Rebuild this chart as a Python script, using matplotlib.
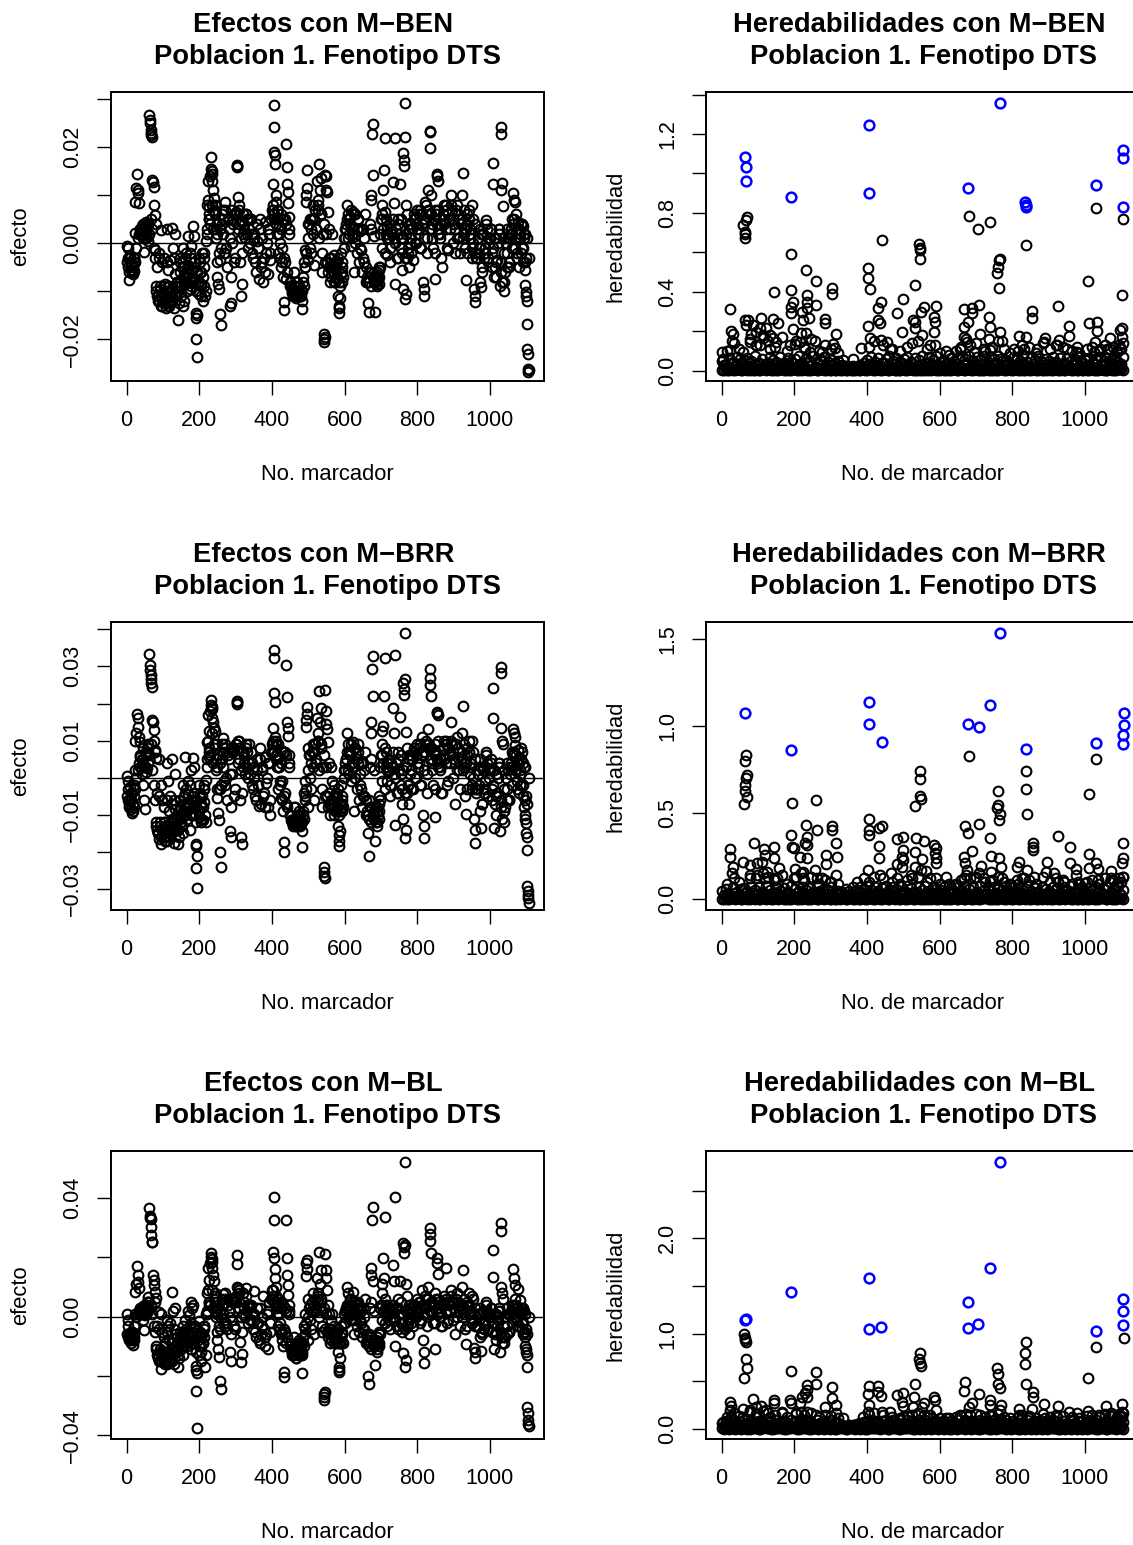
#!/usr/bin/env python3

import numpy as np
import matplotlib
matplotlib.use("Agg")
import matplotlib.pyplot as plt

W, H = 1133, 1545

# Marcadores de los paneles de efectos (mismos para los tres modelos)
marcador = [
    1, 3, 5, 7, 9, 11, 13, 15, 17, 19, 20, 21,
    22, 24, 26, 28, 30, 32, 34, 36, 38, 40, 42, 44, 46, 48, 50, 52, 54, 56, 58, 60,
    62, 64, 65, 66, 67, 68, 69, 70, 72, 74, 76, 78, 80,
    78, 82, 84, 86, 88, 90, 92, 94, 96, 98, 100, 102, 104, 106, 108, 110, 112, 114, 116, 118,
    120, 122, 124, 126, 128, 130, 132, 134, 136, 138,
    140, 142, 144, 146, 148, 150, 152, 154, 156, 158, 160, 162, 164, 166, 168, 170, 172, 174, 176, 178, 180, 182, 184, 186,
    188, 190, 191, 192, 193, 194, 196, 198, 200, 202, 204, 206, 208, 210, 212, 214, 216, 218,
    220, 222, 224, 225, 226, 228, 230, 232, 233, 234, 235, 236, 238, 240, 242, 244, 246, 248, 250, 252, 254, 256, 258, 259, 260, 262,
    264, 268, 272, 276, 280, 284, 286, 288, 292, 296, 300, 303, 304, 305, 306, 308, 312, 316, 318, 320, 324, 328, 332, 336, 340,
    344, 348, 352, 356, 360, 364, 368, 372, 376, 380, 384, 388, 392, 396, 400,
    402, 404, 405, 406, 407, 408, 409, 410, 412, 414, 416, 418, 420, 422, 424, 426, 428, 430, 432, 433,
    436, 438, 440, 441, 442, 443, 444, 446, 448, 450, 452, 454, 456, 458, 460,
    462, 464, 466, 468, 470, 472, 474, 476, 478, 480, 482, 483, 486, 488, 490, 492, 494, 495, 496, 497, 498, 500,
    504, 508, 512, 516, 520, 524, 527, 529, 532, 534, 536, 538, 540, 542, 543, 544, 545, 546, 548, 550, 552, 554, 556, 558, 560,
    562, 565, 568, 571, 574, 577, 580, 582, 584, 585, 586, 587, 588, 590, 592, 594, 596, 598,
    600, 603, 606, 609, 612, 615, 618, 621, 624, 627, 630, 633, 636, 639, 642, 645, 648, 651, 654, 657, 660,
    662, 664, 666, 668, 670, 672, 673, 674, 676, 677, 678, 680, 682, 684, 686, 688, 690, 692, 694, 696,
    698, 700, 702, 704, 706, 708, 710, 712, 714, 716, 718, 720,
    722, 726, 730, 734, 736, 738, 740, 744, 748, 752, 756, 758, 760, 762, 763, 764, 765, 766, 767, 768, 770, 772, 774, 776, 778, 780,
    784, 788, 792, 796, 800, 804, 808, 812, 816, 818, 820, 822, 826, 830, 834, 835, 836, 837, 840, 844, 848, 850, 852, 854, 855, 856, 858,
    862, 868, 874, 880, 886, 892, 898, 904, 910, 916, 922, 925, 928, 932, 935, 938, 942, 946, 950, 954, 958,
    957, 958, 960, 964, 968, 972, 975, 978, 982, 986, 990, 994, 998, 1002, 1006, 1008, 1009, 1012, 1016, 1020,
    1024, 1028, 1030, 1031, 1032, 1034, 1036, 1038, 1040, 1044, 1048, 1052, 1056, 1060,
    1062, 1064, 1066, 1068, 1070, 1072, 1074, 1076, 1078, 1080, 1082, 1084, 1086, 1088, 1090, 1092, 1094, 1096, 1098, 1099,
    1100, 1101, 1102, 1103, 1104, 1105, 1106, 1107, 1108,
]

# Efectos en milesimas
efecto_ben = np.array([
    -.5, -3, -1, -7.7, -2.5, -5.5, -4.5, -6.3, -5, -4, -5.8, -3,
    2.2, 8.5, 11.6, 14.5, 11, 10.5, 8.3, 2, 3, 2.5, 3.5, 1, 2.8, -1.8, 2, 4.5, 3, 3.5, .5, 1.5,
    26.8, 25.6, 25, 23.6, 22.9, 22.6, 22.2, 13.2, 12.8, 11.8, 8, 5.9, 4,
    -1.5, -9, -5, -11, -2, -12, -9.5, 2.8, -13, -4, -10.5, -12.5, -3, -8.5, -13.5, 3, -11.5, -5.5, -13, -9,
    -3.5, -12, 3.2, -10, -1, -13.5, -6.5, 2, -10.5, -8,
    -9, -16, -12.5, -6, -3, -11, -5, -13, -1, -12, -7, -8.5, -2, -10, 1.5, -4.5, -6.5, -9.5, -3, -.5, -5.5, 3.5, -8, 1.5,
    -5, -14.5, -15.5, -20, -23.8, -15, -8, -3, -10.5, -6, -11, -8.5, -2, -12, -9, -5, -11, .5,
    3, 8, 9, 13, 7.5, 5, 14, 18, 15.5, 15, 14.5, 13, 11, 9.5, 6.5, 8, 3, -4, -7, -8.5, -9.5, -3.5, -14.7, -17, -1, 4,
    7, -2, 8.5, -5, 5, -13, -12.5, -7, 4, -4, 6.5, 16.2, 16, 15.8, 9.7, 7, -4, -11, -8.5, 6, 3, 6, 2, 5, 0,
    2, -3, 1, -6, .5, -7.5, 5, -4, -8, 4.5, -2, -6.5, 2, -3.5, 7,
    6, 12.3, 28.7, 24.3, 19, 18.4, 16.4, 10, 8.5, 7, 5, -2, 3.5, -3, -5, 6, -1, -7, -12.3, -14,
    -4, -7.5, 20.6, 15.8, 12.3, 10.7, 8.3, 5.5, 2, -8, -9, -10.3, -9.5, -10, -6,
    -10.5, -9, -11.5, -8, -10, -11, -9, -10.5, -11, -9.5, -12, -13.7, -7, -4, -1.5, -5, 8.6, 10, 11.5, 15.3, 4, -3.5,
    5, -2, 8, -4.5, 3, 13, 9, 16.6, 11, 6, 13.5, -6, 2, -19, -20, -20.5, -19.5, 14.2, 14, 11, 10.7, 6.5, 3, -5, -8,
    -3, 2, -6, -2.5, -8, -5, -7.5, -11, -13, -14.5, -13.5, -11.5, -9, -6.5, -8, -4, -7, -1,
    1, 4, 8, 6, 2, 5.5, -.5, 3, 6.5, -6, 1.5, -2, 5, -4, 2.5, -1.5, -6, 3, -4, 6, -8,
    -8, -12.5, -14.4, -6, 4, 3, 9, 10, 22.7, 24.8, 14.3, 1.5, -7, -14.4, -8, -6, -9, -7.5, -8.5, -5.5,
    2, 5, 8, 6, 11, 15.3, 21.9, 6.5, 2, -2.5, 3.5, 1,
    1, -4, 2.5, 12.8, 8.3, 21.9, -8.4, -3, 5, 12.3, 1, -5.5, -9.5, 18.7, 17.4, 16, 29.2, 22.2, -11.6, -10.5, 8, 6, -2, 3, -5, 0,
    1, -3.5, 5, 0, 7, 3, -1, 6, -8, -9.5, -10.9, 8.5, 1, 11, 23.4, 23.1, 19.9, 10, 4, -1, 7, -7.5, 6, 14.5, 14, 13, 3,
    2, -5, 4, 7, -1.5, 10, 5, -2, 8, 1, 10, 14.6, 3, -1, -7.7, 4, 7, 1, -3, 5, -2,
    -9.5, -12.3, -11, -3, 1, -8, -9.1, -6, 2, -1, 4.8, -4, 0, 3, -5, 12.3, 16.7, -7, 1, -3.5,
    2, -9, 11, 24.3, 22.7, 12.5, 7.8, -10, -8, 0, 3, -5, 1, 5,
    2, 10.5, 9, 8.6, -1, 6, 3, -3, 4.5, -5, 1, 2, -2, 4, 3.5, -4, 1, -5.5, -8.8, -10.2,
    -11, -12, -16.8, -22, -23, -26.2, -26.8, -26.5, -3,
]) / 1000

efecto_brr = np.array([
    .5, -1, -3, -7, -2.5, -6, -8.5, -9.6, -9, -8, -5, -3,
    2, 10, 12, 17.3, 16, 13.7, 11, 9.7, 5.5, 3, 1, -2, 4, -6, -8.5, 1.5, 6, 2.5, 7, 8,
    33.3, 30.3, 29, 27.6, 26.7, 25.4, 24.5, 15.5, 15, 12.8, 10, 7.4, 5.2,
    7, -12, -4, -15, 5, -16.5, -13, -2, -18, -6, -14, -16, -8, -12, -15, 4, -17, -1, -13, -9,
    -5, -14.5, 5, -11, -7, -17.5, -8.5, 1, -13, -10,
    -14, -18, -16, -8, -11, -12, -13, -15, -2, -7, -10, 5.6, -3, -11, -1, -4.5, -8, -14, -6, 2, -5, 5.2, -10, 3,
    -6, -18, -18.5, -24.4, -29.6, -21, -9, -2, -10.5, -4, -12, -8, -5, -11.5, -6.5, -3, -10, -.5,
    5, 9.5, 10, 17, 12.5, 5.5, 18, 21, 19.5, 19, 18.5, 16, 15, 13.5, 9, 12.5, 5, -3, -5.5, -9.5, -11.5, -3, -20, -24, -2, 5,
    10.6, -1, 9, -6, 6, -14.5, -16, -8, 7.5, -5, 9, 20.6, 20.3, 20, 10, 8, -6, -16, -18, 7, 4, 9, 3, 9, 1,
    4, -3, 0, -6, 2, -7.5, 8, 3, -5, 5.5, -1.5, -8, 4, -10, 9,
    7, 13.3, 34.5, 32.3, 22.7, 20.3, 11, 9, 10, 6, 3, -3, 5.5, -2, -5.5, 7.5, -1, -9, -17.2, -20,
    -4, -7, 30.3, 21.8, 15, 13.5, 11.3, 6, 3, -10, -11.5, -12, -12, -12.5, -8,
    -12, -8, -13, -10, -11, -12.5, -9, -12.8, -11, -9.5, -14.5, -18.7, -9, -4, -1, -6, 13.7, 15.5, 17.3, 19, 8, -8,
    6, -3, 9, -6, 4, 16, 12, 23.3, 15, 9, 18.7, -8, 3, -24, -25.5, -26.6, -27, 23.6, 18, 14.6, 13, 9.7, 4, -7, -10,
    3, -1, -7, -2, -9, -4, -8, -13, -15.5, -18.5, -17, -14.5, -9, -7, -9, -5, -8, 0,
    2, 5, 12, 9, 1, 7, -1, 4, 9.5, -9, 0, -3, 9, -6, 1, -3, -8, 4, -5, 7, -10,
    -10, -15, -21, -6, 3, 5, 12, 15, 29.4, 32.8, 22, 2, -9, -17, -12, -8, -12, -10, -11, -5,
    3, 6, 9, 12.5, 14, 22, 32.3, 8, 3, -1, 4, 1.5,
    2, -5, 3, 18.8, 12, 33.2, -12.7, -4, 7, 16.4, 1, -7, -11, 25.5, 24, 22.2, 39, 26.7, -16.3, -14, 12.4, 8, -2, 5, -7, 1,
    2, -3, 7, 0, 9, 4, -2, 11, -10, -13, -16.3, 9, 1, 13, 29.4, 26.9, 25, 22, 5, -2, 9, -10.7, 7, 17.8, 17.5, 17, 4,
    3, -4, 5, 9, -1, 15, 7, -7, 11, 2, 12, 19.4, 4, -5, -9.8, 6, 10, 1, -3, 7, -3,
    -11, -17.5, -14, -3, 1, -9, -13.6, -7, 2, -1, 7, -5, 0, 4, -6, 16, 24.3, -13.6, 1, -4,
    3, -14.5, 13.5, 29.9, 28.3, 10, 9, -12, -9, 0, 4, -6, 1, 7,
    3, 13, 12, 11, 8.8, 6, 4, -1, 7.5, -4, 1, -2, 8, 7, 4, -5, -8, -10, -11, -12.3,
    -15, -16, -19.6, -29.3, -30.5, -31.5, -32.5, -33.8, 0,
]) / 1000

efecto_bl = np.array([
    1, -1, -3, -6, -8, -6, -9, -7, -9.5, -8, -5.5, -7,
    1, 8.4, 11, 16.9, 14, 11.8, 9.5, 1.5, 2.5, 2, 3, -1, 3.5, -4.5, .5, 4, 1, 5, 2, 6.5,
    36.5, 34, 33.4, 33, 30.3, 27.5, 25.3, 25, 14, 12.5, 10.7, 8.4, 6.2,
    5, -10, -3, -13, 1.5, -15, -11, 1, -17.5, -5, -12, -15.5, -7, -9, -14, -1, -16, -3, -12, -8,
    -2, -13, 8.4, -9, 2, -16, -6, 3, -11, -7,
    -12, -17, -14, -9, -5, -11, -7, -13, -3, -10, -8, -1, -4, -9, 2, -6, .5, -7, 5, -2, 3, -5, 4, -3,
    -3, -18, -16.5, -25, -37.6, -19, -8, -1.5, -13, -5, -15, -10, -6, -9, -7, -3, -17, 1,
    2, 8, 9, 16.5, 12.5, 5, 18, 21.3, 20, 19.5, 18.5, 16.3, 14, 12, 8, 7, 2, -5, -8, -11, -13.5, -4, -21.7, -24.4, -.5, 4,
    7.5, -2, 8, -4, 6, -12, -15, -6, 6, -3, 5, 20.8, 17.6, 10, 9.5, 9, -8.5, -15.4, -12.5, 8, 3, 9.5, 2, 4, -1,
    1, -4, 8.5, -7, -2, -8, -9, -3, 7, -10, -6, -11, 5, -2, 9,
    9, 21.9, 40.2, 32.6, 19.9, 16, 13, 10, 7, 5, 1, -3, 4, -4, -6, 5, -8, -10, -18.8, -20.4,
    -5, -9, 32.6, 19.7, 14, 10.7, 7.3, 4, 1, -9, -11, -13, -12, -13, -7,
    -12, -10, -14, -9, -11, -13, -8, -12.5, -10, -9, -13, -18.9, -7, -3, 1, -4, 13.8, 18, 19, 16, 6, -8,
    4, -4, 8, -6, 3, 13, 8, 21.9, 11, 6, 15.7, -5, 2, -26, -27, -28, -25.5, 21, 15.7, 13, 9, 4, 1, -6, -9,
    -1, 1, -5, -3, -8, -6, -9, -12, -17, -18.5, -18, -14, -9, -7, -8.5, -5, -9, -2,
    -2, 3, 10, 8, 2, 6, -1, 4, 8.4, -6, 1, -3, 5, -5, 3, -2, -7, 3, -4, 6, -9,
    -8, -20, -22.6, -6, 3, 5, 14, 16.5, 32.7, 37, 12, 2, -10, -16.3, -9, -7, -11, -9, -10, -5,
    3, 4, 8, 11, 19.9, 13, 33.6, 6, 2, -3, 4, 1,
    1, -4, 3, 17.4, 12, 40.2, -10, -3, 6, 12, 1, -5, -12.4, 24.7, 23.5, 21.3, 52.2, 24, -16.9, -14.5, 11, 7, -2, 4, -6, 0,
    1, -3, 4, 0, 6, 3, -2, 9, -8, -12, -15.7, 7, 1, 10, 29.8, 28, 25.5, 21.3, 5, -2, 8, -10.9, 6, 19.7, 18, 14.3, 3,
    2, -3, 4, 16.3, -1, 9, 5, -6, 8, 2, 10, 15.7, 3, -4, -9.3, 4, 8, 1, -2, 6, -3,
    -10.7, -14, -12, -3, 1, -7, -11.5, -5, 2, -1, 5, -4, 0, 3, -5, 13.5, 22.5, -11, 1, -3,
    2, -11.8, 10, 31.7, 28.9, 8, 6, -9, -7, 0, 3, -5, 1, 4,
    2, 16, 12.9, 10.7, 6, 4, 3, -1, 9.3, -3, 5.6, 1, 2, -4, 3, -6, -5, -7, -10, -11,
    -12, -13, -16.9, -30.3, -32.6, -34.8, -36, -36.7, 0,
]) / 1000

# Masa central densa de los efectos
marcador_denso = [
    2, 6, 10, 14, 18, 22, 26, 30, 34, 38,
    42, 46, 50, 54, 58, 62, 66, 70, 74, 78,
    82, 86, 90, 94, 98, 102, 106, 110, 114, 118,
    122, 126, 130, 134, 138, 142, 146, 150, 154, 158,
    162, 166, 170, 174, 178, 182, 186, 190, 194, 198,
    202, 206, 210, 214, 218, 222, 226, 230, 234, 238,
    242, 246, 250, 254, 258, 262, 266, 270, 274, 278,
    282, 286, 290, 294, 298, 302, 306, 310, 314, 318,
    322, 326, 330, 334, 338, 342, 346, 350, 354, 358,
    362, 366, 370, 374, 378, 382, 386, 390, 394, 398,
    402, 406, 410, 414, 418, 422, 426, 430, 434, 438,
    442, 446, 450, 454, 458, 462, 466, 470, 474, 478,
    482, 486, 490, 494, 498, 502, 506, 510, 514, 518,
    522, 526, 530, 534, 538, 542, 546, 550, 554, 558,
    562, 566, 570, 574, 578, 582, 586, 590, 594, 598,
    602, 606, 610, 614, 618, 622, 626, 630, 634, 638,
    642, 646, 650, 654, 658, 662, 666, 670, 674, 678,
    682, 686, 690, 694, 698, 702, 706, 710, 714, 718,
    722, 726, 730, 734, 738, 742, 746, 750, 754, 758,
    762, 766, 770, 774, 778, 782, 786, 790, 794, 798,
    802, 806, 810, 814, 818, 822, 826, 830, 834, 838,
    842, 846, 850, 854, 858, 862, 866, 870, 874, 878,
    882, 886, 890, 894, 898, 902, 906, 910, 914, 918,
    922, 926, 930, 934, 938, 942, 946, 950, 954, 958,
    962, 966, 970, 974, 978, 982, 986, 990, 994, 998,
    1002, 1006, 1010, 1014, 1018, 1022, 1026, 1030, 1034, 1038,
    1042, 1046, 1050, 1054, 1058, 1062, 1066, 1070, 1074, 1078,
    1082, 1086, 1090, 1094, 1098, 1102,
]
denso_ben = np.array([
    -4, -6, -3, -5.5, -6.5, -4, -1, 1, 2, 3,
    2, 4, 3, 1, 4, 2, 5, 3, -1, -3,
    -10, -12, -3, -11, -13, -9, -12, -4, -10, -12.5,
    -10, -12, -3, -11, -8, -10, -4, -9, -7, -5,
    -3, -8, -6, -2, -9, -7, -4, -10, -6, -8,
    -4, -9, -7, -2, -10, 2, 6, 4, 8, 3,
    6, 1, 4, -2, 3, 6, 2, 7, -1, 5,
    3, 7, 0, 5, -3, 6, 3, 8, 1, -2,
    4, 1, 6, -1, 3, 5, -2, 2, -4, 4,
    -1, 3, -5, 1, -3, -6, 0, 3, -2, 5,
    8, 6, 4, 2, 7, 0, 3, 5, -3, 4,
    -6, 3, -9, -10, -11, -9, -11, -10, -9, -10.5,
    -10, -8, -5, -2, 1, 4, -1, 5, 2, 7,
    3, 8, 1, 6, -2, 4, -4, 2, -6, -3,
    -7, -5, -8, -4, -7, -3, -8, -2, -6, 1,
    3, 5, 1, 4, 7, 2, 6, 0, 3, 5,
    -1, 3, -3, 1, -5, -7, -8, -6, -9, -7,
    -8, -6.5, -8.5, -7, -5, -1, 3, -2, 5, 1,
    4, -1, 2, 5, 0, 3, -3, 2, 5, -2,
    1, -3, 2, -1, 4, -2, 3, 5, 0, 4,
    2, 6, -1, 4, 1, 5, -2, 7, 3, 6,
    1, 5, -2, 4, 7, 1, -3, 5, 8, 3,
    -1, 6, 3, 8, 0, 4, 7, 1, 5, -2,
    5, 1, 7, 3, -2, 5, 2, 8, 0, 4,
    -3, 1, -1, 3, -5, 2, -2, 4, -3, 1,
    3, -2, 1, -5, -7, 0, 3, -4, -8, 1,
    -6, -2, 1, -4, 3, -1, 5, 1, -2, 3,
    1, 4, -1, 2, -4, 1,
]) / 1000
denso_brr = np.array([
    -5, -8, -6, -4, -7, -3, 0, 2, 4, 6,
    5, 8, 3, 7, 4, 6, 9, 2, -2, -6,
    -13, -15, -5, -16, -14, -12, -17, -6, -14, -16,
    -12, -15, -6, -13, -11, -14, -6, -12, -9, -5,
    -4, -9, -7, -2, -10, -8, -4, -12, -6, -9,
    -5, -11, -8, -2, -12, 3, 8, 6, 12, 4,
    8, 2, 6, -3, 4, 9, 3, 8, 0, 7,
    5, 8, 1, 7, -3, 9, 4, 10, 2, -4,
    6, 1, 8, 0, 4, 7, -2, 3, -5, 5,
    -2, 5, -7, 2, -4, -8, 0, 4, -6, 7,
    10, 7, 5, 3, 9, -1, 4, 7, -5, 6,
    -8, 4, -10, -12, -13, -11, -13, -12, -10, -13,
    -12, -10, -5, -3, 2, 6, 0, 7, 3, 9,
    5, 10, 2, 8, -3, 6, -5, 3, -8, -4,
    -8, -6, -10, -5, -9, -3, -10, -2, -7, 2,
    4, 7, 2, 6, 9, 3, 8, 0, 5, 7,
    -2, 4, -5, 2, -6, -9, -11, -8, -12, -10,
    -11, -8, -13, -9, -6, -1, 4, -3, 7, 2,
    5, -2, 3, 7, 0, 4, -4, 2, 6, -3,
    2, -4, 3, -2, 6, -3, 5, 7, 0, 6,
    3, 8, -2, 6, 2, 7, -4, 9, 5, 8,
    2, 7, -3, 5, 10, 2, -4, 6, 10, 4,
    -2, 8, 4, 10, 0, 5, 9, 2, 7, -3,
    7, 2, 9, 4, -3, 7, 3, 10, 0, 5,
    -4, 2, -2, 5, -7, 3, -3, 6, -5, 2,
    5, -3, 2, -7, -10, 0, 4, -6, -11, 2,
    -8, -3, 2, -6, 4, -2, 7, 2, -3, 5,
    2, 5, -2, 3, -6, -7,
]) / 1000
denso_bl = np.array([
    -6, -8, -7, -5, -8, -3, 0, 1, 2, 3,
    1, 3, 2, 4, 3, 5, 4, 1, -3, -5,
    -11, -14, -4, -15, -13, -10, -16, -5, -13, -15,
    -11, -15, -4, -12, -9, -13, -7, -10, -8, -6,
    -5, -10, -8, -3, -11, -9, -4, -12, -7, -10,
    -6, -12, -9, -3, -13, 1, 5, 4, 9, 3,
    5, 0, 3, -3, 2, 6, 1, 6, -2, 4,
    2, 6, -1, 5, -4, 7, 3, 8, 0, -5,
    5, 0, 7, -2, 3, 4, -1, 1, -5, 3,
    -2, 3, -6, 0, -4, -7, 1, 2, -5, 6,
    7, 5, 3, 1, 6, -2, 3, 4, -4, 2,
    -7, 2, -10, -12, -13, -11, -14, -12, -9, -13,
    -12, -9, -6, -2, 0, 3, -1, 5, 2, 6,
    2, 7, 0, 5, -3, 3, -4, 1, -7, -4,
    -8, -6, -9, -5, -8, -4, -9, -3, -6, 1,
    2, 4, 0, 3, 6, 1, 5, -1, 3, 4,
    -1, 2, -4, 0, -6, -8, -10, -7, -11, -9,
    -10, -8, -12, -9, -6, -1, 2, -2, 4, 0,
    3, -1, 2, 4, -1, 3, -4, 1, 5, -2,
    1, -4, 2, -1, 3, -2, 2, 4, 0, 3,
    2, 5, -1, 4, 1, 4, -3, 6, 2, 5,
    1, 4, -2, 3, 6, 0, -3, 4, 7, 2,
    -2, 5, 2, 7, -1, 3, 6, 0, 4, -3,
    4, 0, 6, 2, -3, 4, 1, 7, -1, 3,
    -3, 1, -1, 3, -6, 2, -2, 4, -4, 1,
    3, -2, 1, -6, -8, -1, 3, -5, -9, 0,
    -7, -3, 1, -5, 2, -2, 4, 0, -3, 2,
    1, 3, -2, 2, -5, -6,
]) / 1000

# Segunda capa de la masa central
marcador_denso2 = [
    4, 12, 20, 36, 44, 52, 60, 84, 92, 100,
    108, 116, 124, 132, 148, 164, 172, 180, 204, 212,
    228, 240, 248, 264, 272, 284, 296, 308, 320, 332,
    404, 412, 420, 428, 436, 464, 472, 480, 488, 508,
    516, 528, 552, 564, 572, 580, 592, 604, 612, 620,
    628, 636, 664, 672, 680, 688, 696, 704, 716, 728,
    736, 748, 756, 772, 784, 792, 800, 808, 816, 824,
    832, 840, 848, 856, 864, 872, 880, 888, 896, 904,
    912, 920, 928, 936, 944, 952, 968, 976, 984, 992,
    1000, 1008, 1016, 1024, 1032, 1040, 1048, 1056, 1064, 1072,
    1080, 1088, 1096, 1100,
]
denso2_ben = np.array([
    -5, -4, -3, 2, 3, 1, 4, -11, -9, -12,
    -10, -13, -11, -9, -8, -6, -5, -8, -6, -3,
    5, 7, 2, 5, -2, 1, 6, 4, 2, 5,
    7, 5, 2, -4, 5, -10, -10.5, -11, -9, 3,
    5, 7, -4, -5, -6, -4, -5, 3, 5, 2,
    6, 3, -8, -6, -8, -7.5, -5, 5, 2, 3,
    1, 4, -1, -3, 4, 6, 3, 7, 5, 8,
    6, 3, 5, 2, 4, 6, 8, 5, 7, 3,
    6, 4, 2, 6, 3, -1, -2, 2, -3, 3,
    1, -1, -4, 3, -6, -2, -5, 2, 4, 1,
    3, -1, 2, -3,
]) / 1000
denso2_brr = np.array([
    -6, -4, -2, 3, 5, 7, 9, -14, -12, -15,
    -13, -16, -14, -11, -10, -8, -7, -10, -7, -3,
    7, 9, 3, 7, -2, 1, 8, 5, 3, 7,
    9, 6, 3, -6, 7, -12, -13, -12, -11, 4,
    7, 10, -5, -6, -8, -5, -6, 5, 7, 3,
    8, 4, -10, -8, -11, -9, -7, 6, 3, 4,
    1, 5, -2, -4, 6, 8, 4, 9, 7, 10,
    8, 4, 6, 3, 5, 8, 10, 6, 9, 4,
    8, 5, 3, 8, 4, -2, -3, 3, -4, 4,
    2, -2, -5, 4, -8, -3, -6, 3, 6, 2,
    4, -2, 3, -5,
]) / 1000
denso2_bl = np.array([
    -7, -5, -3, 1, 2, 3, 5, -13, -12, -14,
    -12, -15, -13, -10, -9, -7, -6, -9, -7, -4,
    4, 6, 1, 4, -3, 0, 5, 3, 1, 4,
    6, 4, 1, -5, 3, -11, -12, -12, -10, 2,
    4, 6, -5, -6, -7, -5, -6, 2, 4, 1,
    5, 2, -9, -7, -10, -9, -6, 4, 1, 2,
    0, 3, -2, -3, 3, 4, 2, 5, 3, 6,
    4, 2, 4, 1, 3, 5, 6, 4, 5, 2,
    5, 3, 1, 5, 2, -2, -3, 1, -4, 2,
    0, -2, -5, 2, -7, -3, -6, 1, 3, 0,
    2, -2, 1, -4,
]) / 1000

# Franja densa de heredabilidades cercanas a cero
marcador_banda = [
    2, 12, 21, 31, 42, 52, 61, 71, 82, 92,
    102, 111, 121, 132, 142, 151, 161, 172, 182, 191,
    201, 212, 222, 231, 241, 252, 262, 271, 281, 292,
    302, 311, 321, 332, 342, 351, 361, 372, 382, 391,
    401, 412, 422, 431, 441, 452, 462, 471, 481, 492,
    502, 511, 521, 532, 542, 551, 561, 572, 582, 591,
    601, 612, 622, 631, 641, 652, 662, 671, 681, 692,
    702, 711, 721, 732, 742, 751, 761, 772, 782, 791,
    801, 812, 822, 831, 841, 852, 862, 871, 881, 892,
    902, 911, 921, 932, 942, 951, 961, 972, 982, 991,
    1001, 1012, 1022, 1031, 1041, 1052, 1062, 1071, 1081, 1092, 1104,
]
marcador_banda2 = [
    7, 16, 26, 37, 47, 56, 66, 77, 87, 97,
    106, 116, 127, 137, 146, 156, 167, 177, 186, 196,
    207, 217, 226, 236, 247, 257, 266, 276, 287, 297,
    306, 316, 327, 337, 346, 356, 367, 377, 386, 396,
    407, 417, 426, 436, 447, 457, 466, 476, 487, 497,
    506, 516, 527, 537, 546, 556, 567, 577, 586, 596,
    607, 617, 626, 636, 647, 657, 666, 676, 687, 697,
    706, 716, 727, 737, 746, 756, 767, 777, 786, 796,
    807, 817, 826, 836, 847, 857, 866, 876, 887, 897,
    906, 916, 927, 937, 946, 956, 967, 977, 986, 996,
    1007, 1017, 1026, 1036, 1047, 1057, 1066, 1076, 1087, 1097, 1100,
]
banda_base = np.array([
    3, 8, 1, 5, 10, 2, 6, 1, 9, 4,
    2, 7, 3, 11, 1, 5, 8, 2, 6, 3,
    9, 1, 4, 7, 2, 10, 3, 6, 1, 8,
    4, 2, 9, 5, 1, 7, 3, 10, 2, 6,
    1, 8, 4, 11, 3, 6, 2, 9, 5, 1,
    7, 3, 10, 2, 8, 4, 1, 6, 9, 3,
    5, 1, 8, 2, 10, 4, 7, 1, 6, 3,
    9, 2, 5, 11, 1, 7, 4, 8, 2, 6,
    3, 10, 1, 5, 9, 2, 7, 4, 1, 8,
    6, 3, 11, 2, 5, 9, 1, 7, 4, 2,
    8, 3, 6, 1, 10, 5, 2, 9, 4, 7, 1,
]) / 1000
banda_base2 = np.array([
    1, 4, 12, 2, 7, 3, 14, 1, 5, 9,
    2, 13, 6, 1, 8, 3, 11, 2, 4, 15,
    1, 6, 10, 3, 2, 8, 1, 13, 5, 2,
    7, 1, 3, 9, 2, 5, 1, 4, 8, 2,
    12, 3, 6, 1, 9, 2, 14, 4, 1, 7,
    3, 10, 2, 5, 1, 12, 4, 2, 6, 1,
    9, 3, 2, 13, 1, 6, 3, 8, 2, 11,
    1, 5, 9, 2, 4, 1, 12, 3, 7, 1,
    6, 2, 14, 1, 3, 8, 2, 11, 5, 1,
    3, 9, 2, 6, 1, 12, 4, 2, 8, 3,
    1, 10, 4, 2, 7, 1, 13, 3, 2, 6, 9,
]) / 1000
banda_ben = np.array([
    50, 30, 62, 45, 70, 38, 55, 65, 48, 72,
    40, 60, 35, 68, 52, 42, 70, 36, 64, 45,
    58, 72, 40, 66, 50, 74, 42, 60, 68, 46,
    55, 40, 48, 30, 22, 18, 25, 20, 30, 38,
    52, 68, 44, 66, 38, 60, 72, 48, 64, 42,
    58, 70, 46, 65, 52, 74, 40, 68, 55, 72,
    42, 55, 35, 62, 48, 66, 72, 58, 76, 50,
    68, 52, 74, 44, 70, 60, 76, 48, 56, 40,
    62, 70, 50, 74, 44, 66, 52, 72, 46, 60,
    50, 68, 42, 62, 38, 66, 48, 58, 70, 44,
    56, 66, 42, 60, 70, 48, 62, 52, 66, 44, 70,
]) / 1000
banda_brr = np.array([
    45, 62, 30, 70, 40, 58, 66, 48, 72, 52,
    68, 44, 74, 56, 38, 70, 50, 64, 42, 76,
    60, 46, 72, 52, 66, 40, 74, 48, 62, 56,
    70, 44, 50, 42, 60, 48, 68, 54, 72, 62,
    74, 56, 70, 46, 66, 78, 52, 72, 60, 76,
    50, 78, 64, 44, 72, 56, 76, 48, 70, 62,
    52, 70, 40, 64, 50, 72, 46, 74, 60, 68,
    44, 76, 56, 70, 48, 72, 62, 54, 74, 46,
    68, 42, 72, 56, 76, 50, 66, 44, 70, 60,
    46, 72, 58, 40, 68, 52, 74, 48, 62, 70,
    44, 66, 56, 72, 48, 60, 70, 44, 64, 74, 52,
]) / 1000
banda_bl = np.array([
    60, 80, 42, 90, 55, 75, 88, 62, 92, 70,
    85, 58, 95, 72, 50, 88, 66, 82, 55, 92,
    78, 60, 90, 68, 84, 52, 92, 62, 80, 72,
    88, 56, 64, 38, 30, 42, 35, 50, 60, 72,
    68, 52, 86, 60, 82, 94, 66, 88, 74, 92,
    64, 94, 78, 56, 88, 70, 92, 60, 86, 76,
    66, 84, 50, 78, 62, 88, 58, 90, 74, 84,
    56, 92, 70, 86, 60, 88, 76, 66, 90, 58,
    84, 54, 88, 70, 92, 62, 82, 56, 86, 74,
    58, 88, 72, 50, 84, 64, 90, 60, 76, 86,
    56, 82, 70, 88, 60, 74, 86, 56, 78, 90, 66,
]) / 1000
banda2_ben = np.array([
    28, 20, 35, 24, 16, 30, 22, 38, 18, 26,
    32, 20, 36, 24, 30, 18, 34, 22, 28, 40,
    24, 32, 20, 36, 26, 18, 34, 28, 22, 30,
    26, 18, 24, 14, 12, 16, 12, 15, 18, 22,
    34, 22, 30, 18, 36, 26, 20, 32, 24, 38,
    28, 20, 34, 24, 30, 18, 36, 26, 22, 30,
    24, 32, 18, 26, 34, 22, 28, 38, 20, 30,
    24, 34, 20, 30, 26, 36, 18, 28, 34, 22,
    30, 20, 36, 26, 18, 32, 24, 28, 20, 34,
    26, 20, 30, 22, 32, 18, 28, 36, 24, 20,
    30, 22, 34, 18, 26, 32, 22, 36, 28, 24, 34,
]) / 1000
banda2_brr = np.array([
    24, 32, 18, 36, 26, 20, 34, 22, 38, 28,
    20, 34, 26, 18, 36, 28, 22, 32, 24, 18,
    34, 26, 38, 20, 30, 24, 36, 18, 32, 26,
    22, 34, 28, 20, 24, 30, 18, 36, 26, 22,
    32, 24, 38, 28, 20, 34, 26, 18, 36, 24,
    30, 38, 22, 32, 18, 28, 34, 24, 36, 20,
    32, 22, 28, 36, 24, 18, 34, 26, 30, 22,
    36, 24, 32, 18, 28, 34, 22, 38, 26, 30,
    22, 34, 26, 18, 32, 24, 36, 20, 30, 26,
    34, 24, 18, 32, 26, 36, 22, 28, 20, 34,
    24, 32, 20, 36, 26, 18, 30, 34, 22, 28, 26,
]) / 1000
banda2_bl = np.array([
    30, 42, 24, 48, 36, 28, 44, 32, 50, 38,
    26, 46, 34, 24, 48, 36, 30, 42, 32, 26,
    44, 34, 50, 28, 40, 32, 46, 26, 42, 34,
    30, 22, 28, 18, 14, 20, 16, 24, 30, 28,
    42, 32, 50, 36, 26, 44, 34, 24, 46, 32,
    40, 50, 28, 42, 24, 38, 44, 32, 46, 28,
    42, 30, 36, 46, 32, 24, 44, 34, 40, 30,
    46, 32, 42, 24, 36, 44, 30, 50, 34, 40,
    30, 44, 34, 24, 42, 32, 46, 28, 40, 34,
    44, 32, 24, 42, 34, 46, 30, 36, 28, 44,
    32, 42, 28, 46, 34, 24, 40, 44, 30, 36, 34,
]) / 1000

# Nube de valores intermedios justo sobre la franja
marcador_nube = [
    15, 35, 48, 78, 95, 115, 128, 148, 165, 180,
    205, 218, 228, 245, 268, 285, 300, 320, 405, 420,
    445, 470, 490, 510, 525, 540, 565, 575, 600, 625,
    645, 660, 672, 685, 700, 725, 745, 760, 778, 795,
    815, 828, 845, 865, 885, 905, 920, 940, 965, 985,
    1005, 1020, 1040, 1055, 1068, 1078, 1088, 1095, 1100, 1105,
]
nube_ben = [
    .10, .14, .11, .16, .13, .18, .15, .12, .17, .10,
    .15, .19, .12, .16, .10, .13, .11, .09, .12, .15,
    .13, .11, .10, .12, .14, .15, .11, .13, .09, .08,
    .10, .12, .16, .13, .14, .10, .12, .15, .11, .09,
    .10, .13, .12, .09, .14, .11, .13, .12, .10, .09,
    .11, .12, .10, .13, .11, .12, .10, .13, .11, .14,
]
nube_brr = [
    .09, .12, .10, .14, .12, .15, .13, .11, .14, .09,
    .13, .15, .11, .13, .09, .11, .10, .09, .10, .13,
    .12, .10, .09, .11, .12, .13, .10, .12, .09, .09,
    .09, .11, .14, .12, .13, .10, .11, .13, .10, .09,
    .09, .12, .11, .09, .13, .10, .12, .11, .09, .09,
    .10, .11, .09, .12, .10, .11, .09, .12, .10, .13,
]
nube_bl = [
    .12, .16, .13, .18, .15, .19, .17, .14, .16, .12,
    .15, .18, .14, .17, .12, .14, .13, .11, .14, .16,
    .14, .12, .11, .13, .14, .16, .12, .14, .11, .11,
    .12, .13, .15, .14, .15, .12, .13, .15, .12, .11,
    .12, .14, .13, .11, .15, .12, .14, .13, .12, .11,
    .13, .14, .12, .15, .13, .14, .12, .15, .13, .16,
]

# Heredabilidades sobre la franja, M-BEN
x_her_ben = [
    69, 68, 59, 63, 63, 64, 191, 441, 544, 546,
    545, 546, 680, 706, 740, 763, 765, 760, 759, 763,
    839, 1031, 1105, 1008, 1103, 232, 259, 305, 305, 144,
    192, 197, 190, 190, 234, 235, 235, 261, 222, 240,
    223, 404, 404, 408, 439, 431, 431, 437, 403, 498,
    484, 531, 528, 533, 531, 556, 549, 590, 586, 588,
    586, 666, 689, 689, 708, 677, 666, 737, 740, 855,
    855, 925, 957, 1011, 1034, 1034, 23, 63, 73, 109,
    142, 155, 284, 284, 197, 231, 315, 27, 31, 29,
    24, 0, 59, 105, 82, 114, 151, 201, 257, 307,
    312, 385, 408, 438, 496, 551, 588, 618, 666, 712,
    735, 767, 772, 818, 839, 891, 928, 956, 979, 1029,
    1069, 1098, 1103, 1098, 1103, 1043, 740, 767, 694, 454,
    464, 215, 96, 132, 50, 4, 335, 362, 1002, 1080,
    68, 86, 96, 123, 132, 77, 105, 142, 188, 229,
    243, 275, 924, 951, 832, 868, 804, 657, 675, 721,
    979, 1025, 1062, 1089, 887,
]
y_her_ben = [
    .778, .764, .739, .705, .693, .671, .592, .661, .641, .620,
    .612, .564, .783, .717, .754, .563, .566, .527, .497, .419,
    .636, .824, .768, .454, .385, .510, .454, .417, .386, .400,
    .408, .349, .324, .290, .383, .349, .315, .332, .298, .269,
    .256, .519, .471, .414, .349, .319, .256, .239, .227, .363,
    .293, .436, .256, .244, .217, .324, .298, .327, .273, .247,
    .197, .310, .315, .293, .332, .247, .222, .273, .222, .302,
    .269, .327, .227, .239, .244, .200, .314, .259, .259, .268,
    .261, .242, .264, .239, .210, .193, .188, .200, .183, .149,
    .103, .095, .095, .214, .188, .163, .146, .137, .149, .137,
    .115, .115, .163, .154, .197, .180, .129, .098, .171, .188,
    .159, .197, .149, .176, .168, .163, .154, .176, .120, .146,
    .166, .205, .168, .117, .214, .112, .103, .061, .095, .146,
    .112, .146, .129, .112, .061, .061, .053, .061, .061, .053,
    .230, .230, .197, .214, .180, .146, .129, .163, .129, .112,
    .095, .095, .129, .112, .112, .112, .112, .112, .146, .112,
    .095, .095, .112, .095, .146,
]

# Heredabilidades sobre la franja, M-BRR
x_her_brr = [
    68, 63, 69, 67, 63, 64, 70, 62, 193, 260,
    233, 262, 305, 305, 316, 317, 287, 287, 316, 190,
    193, 198, 235, 230, 236, 23, 23, 88, 117, 144,
    144, 60, 216, 235, 120, 202, 225, 258, 159, 32,
    28, 405, 406, 406, 432, 441, 432, 433, 404, 547,
    546, 546, 549, 532, 534, 500, 483, 557, 531, 499,
    497, 500, 483, 497, 531, 552, 549, 564, 586, 589,
    587, 589, 589, 619, 589, 681, 669, 679, 708, 690,
    738, 667, 741, 671, 713, 675, 708, 761, 761, 759,
    766, 764, 764, 768, 741, 773, 739, 838, 837, 840,
    856, 857, 857, 926, 959, 1010, 1032, 1104, 1012, 1030,
    1104, 1101, 895, 819, 814, 842, 860, 892, 915, 959,
    975, 975, 1012, 1035, 1072, 1104, 1035, 1001, 925, 814,
    722, 78, 97, 110, 124, 78, 97, 120, 143, 152,
    198, 225, 262, 276, 299, 373, 391, 437, 465, 483,
    520, 639, 667, 695, 796, 833, 943, 980, 1072, 1090,
]
y_her_brr = [
    .832, .797, .716, .697, .659, .626, .588, .549, .553, .572,
    .428, .399, .424, .399, .323, .246, .255, .204, .140, .371,
    .303, .294, .361, .323, .313, .290, .246, .323, .288, .303,
    .236, .217, .246, .236, .255, .173, .159, .169, .182, .188,
    .150, .463, .399, .371, .409, .424, .309, .236, .169, .741,
    .693, .595, .578, .538, .351, .357, .346, .338, .275, .284,
    .246, .227, .204, .188, .188, .230, .169, .165, .313, .294,
    .265, .236, .207, .131, .121, .826, .423, .380, .434, .278,
    .351, .246, .252, .207, .194, .169, .150, .624, .543, .524,
    .492, .457, .236, .188, .159, .121, .108, .737, .636, .494,
    .323, .303, .284, .365, .300, .605, .807, .326, .261, .207,
    .236, .207, .213, .213, .188, .169, .131, .159, .150, .207,
    .175, .140, .182, .175, .163, .131, .111, .092, .102, .111,
    .121, .198, .207, .217, .159, .121, .140, .121, .121, .121,
    .121, .121, .121, .121, .102, .102, .121, .140, .150, .121,
    .140, .083, .121, .121, .083, .121, .102, .102, .121, .102,
]

# Heredabilidades sobre la franja, M-BL
x_her_bl = [
    61, 63, 63, 66, 66, 70, 61, 1108, 1031, 1009,
    191, 259, 260, 236, 234, 229, 220, 234, 215, 304,
    304, 315, 284, 86, 22, 27, 22, 144, 144, 188,
    192, 109, 59, 77, 96, 123, 165, 405, 403, 431,
    431, 439, 407, 404, 441, 464, 484, 499, 497, 500,
    531, 530, 528, 546, 544, 545, 548, 556, 551, 586,
    588, 590, 618, 669, 666, 708, 689, 680, 657, 738,
    740, 759, 760, 760, 765, 769, 767, 837, 836, 836,
    838, 856, 857, 855, 818, 887, 925, 1057, 1103, 956,
    979, 1008, 1039, 1071, 1103, 1103, 891, 924, 850, 818,
    740, 712, 556, 500, 390, 335, 261, 316, 234, 206,
    132, 96, 59, 4, 27,
]
y_her_bl = [
    1.0, .955, .93, .913, .735, .64, .535, .952, .854, .535,
    .609, .595, .466, .459, .406, .371, .336, .336, .266, .441,
    .319, .249, .231, .308, .277, .242, .196, .301, .266, .301,
    .266, .242, .203, .196, .231, .196, .179, .448, .361, .448,
    .389, .347, .249, .179, .179, .179, .354, .371, .284, .242,
    .466, .336, .231, .792, .729, .694, .662, .266, .231, .336,
    .301, .196, .109, .494, .399, .364, .266, .231, .144, .301,
    .249, .634, .574, .466, .424, .249, .196, .907, .799, .676,
    .466, .382, .336, .203, .203, .259, .242, .242, .256, .179,
    .161, .189, .144, .161, .179, .126, .109, .126, .126, .144,
    .144, .144, .144, .126, .126, .109, .144, .161, .179, .161,
    .126, .126, .126, .074, .126,
]

# Marcadores destacados en azul
x_azul_ben = [65, 66, 66, 190, 407, 406, 678, 766, 836, 837, 837, 1031, 1106, 1106, 1104]
y_azul_ben = [1.085, 1.033, .963, .88, 1.245, .90, .925, 1.355, .855, .84, .83, .94, 1.12, 1.08, .83]
x_azul_brr = [65, 192, 407, 406, 441, 679, 708, 740, 766, 837, 1032, 1107, 1107, 1105, 1105]
y_azul_brr = [1.074, .862, 1.135, 1.01, .905, 1.012, .995, 1.12, 1.536, .868, .90, 1.074, 1.006, .947, .897]
x_azul_bl = [63, 66, 190, 407, 406, 440, 678, 679, 707, 740, 766, 1031, 1106, 1104, 1105]
y_azul_bl = [1.147, 1.15, 1.441, 1.581, 1.049, 1.068, 1.336, 1.056, 1.105, 1.686, 2.80, 1.025, 1.364, 1.232, 1.088]

x_ticks = [0, 200, 400, 600, 800, 1000]


def px_axes(left, top, right, bottom):
    return [left / W, 1 - bottom / H, (right - left) / W, (bottom - top) / H]


def marcas(ax, x, y, color="black", mew=1.5):
    ax.plot(x, y, "o", ms=7.0, mfc="none", mec=color, mew=mew, ls="none")


def ejes(ax, ylim, yticks, ylabels):
    ax.set_xlim(-43, 1149)
    ax.set_ylim(*ylim)
    ax.set_xticks(x_ticks)
    ax.set_yticks(yticks)
    ax.set_yticklabels(ylabels, rotation=90, va="center")
    ax.tick_params(axis="both", length=10, width=1.0, labelsize=15.5)
    ax.tick_params(axis="x", pad=11)
    ax.tick_params(axis="y", pad=10)
    for s in ax.spines.values():
        s.set_linewidth(1.4)


def titulo(x, y, s, **kw):
    fig.text(x / W, 1 - y / H, s, ha="center", va="center", **kw)


plt.rcParams["font.family"] = ["Liberation Sans", "DejaVu Sans"]
fig = plt.figure(figsize=(W / 100, H / 100), dpi=100)

filas = [(92, 381), (622, 910), (1151, 1439)]
modelos = ["M\u2212BEN", "M\u2212BRR", "M\u2212BL"]
efectos = [efecto_ben, efecto_brr, efecto_bl]
densos = [denso_ben, denso_brr, denso_bl]
densos2 = [denso2_ben, denso2_brr, denso2_bl]
ylim_efecto = [(-.0287, .0315), (-.03566, .04197), (-.0412, .0558)]
yticks_efecto = [
    [-.02, -.01, 0, .01, .02, .03],
    [-.03, -.02, -.01, 0, .01, .02, .03, .04],
    [-.04, -.02, 0, .02, .04],
]
ylabels_efecto = [
    ["\u22120.02", "", "0.00", "", "0.02", ""],
    ["\u22120.03", "", "\u22120.01", "", "0.01", "", "0.03", ""],
    ["\u22120.04", "", "0.00", "", "0.04"],
]
bandas = [banda_ben, banda_brr, banda_bl]
bandas2 = [banda2_ben, banda2_brr, banda2_bl]
nubes = [nube_ben, nube_brr, nube_bl]
her_x = [x_her_ben, x_her_brr, x_her_bl]
her_y = [y_her_ben, y_her_brr, y_her_bl]
azul_x = [x_azul_ben, x_azul_brr, x_azul_bl]
azul_y = [y_azul_ben, y_azul_brr, y_azul_bl]
ylim_her = [(-.0528, 1.4127), (-.0617, 1.598), (-.108, 2.917)]
yticks_her = [
    [0, .2, .4, .6, .8, 1.0, 1.2, 1.4],
    [0, .5, 1.0, 1.5],
    [0, .5, 1.0, 1.5, 2.0, 2.5],
]
ylabels_her = [
    ["0.0", "", "0.4", "", "0.8", "", "1.2", ""],
    ["0.0", "0.5", "1.0", "1.5"],
    ["0.0", "", "1.0", "", "2.0", ""],
]

for i, (top, bottom) in enumerate(filas):
    # Columna de efectos
    ax = fig.add_axes(px_axes(111, top, 544, bottom))
    marcas(ax, marcador, efectos[i])
    marcas(ax, marcador_denso, densos[i])
    marcas(ax, marcador_denso2, densos2[i])
    ax.axhline(0, color="black", lw=1.0)
    ejes(ax, ylim_efecto[i], yticks_efecto[i], ylabels_efecto[i])
    titulo(323.5, top - 67, f"Efectos con {modelos[i]}", fontsize=19.7, fontweight="bold")
    titulo(327.5, top - 35, "Poblacion 1. Fenotipo DTS", fontsize=19.7, fontweight="bold")
    titulo(327.5, bottom + 93.5, "No. marcador", fontsize=15.8)
    titulo(21, (top + bottom) / 2, "efecto", fontsize=15.8, rotation=90)

    # Columna de heredabilidades, el borde derecho queda fuera de la imagen
    ax = fig.add_axes(px_axes(706, top, 1139, bottom))
    marcas(ax, marcador_banda, banda_base)
    marcas(ax, marcador_banda2, banda_base2)
    marcas(ax, marcador_banda, bandas[i])
    marcas(ax, marcador_banda2, bandas2[i])
    marcas(ax, marcador_nube, nubes[i])
    marcas(ax, her_x[i], her_y[i])
    marcas(ax, azul_x[i], azul_y[i], color="#0000ff", mew=1.8)
    ejes(ax, ylim_her[i], yticks_her[i], ylabels_her[i])
    titulo(919, top - 67, f"Heredabilidades con {modelos[i]}", fontsize=19.7, fontweight="bold")
    titulo(923, top - 35, "Poblacion 1. Fenotipo DTS", fontsize=19.7, fontweight="bold")
    titulo(922.5, bottom + 93.5, "No. de marcador", fontsize=15.8)
    titulo(616, (top + bottom) / 2, "heredabilidad", fontsize=15.8, rotation=90)

fig.savefig("out.png", dpi=100)
